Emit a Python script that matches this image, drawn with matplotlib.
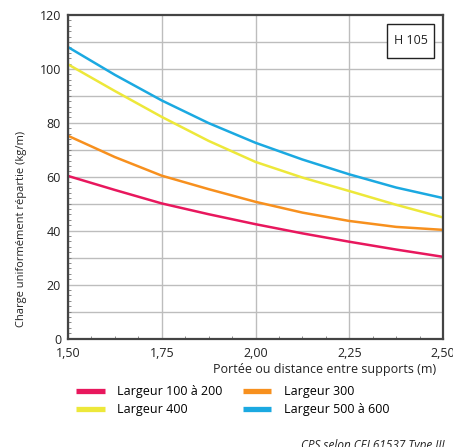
import matplotlib
matplotlib.use("Agg")
import matplotlib.pyplot as plt
from matplotlib.ticker import MultipleLocator
from matplotlib.lines import Line2D
from matplotlib.patches import Rectangle

# Data
portee = [1.5, 1.625, 1.75, 1.875, 2.0, 2.125, 2.25, 2.375, 2.5]
larg_100_200 = [60.3, 55.1, 50.1, 46.1, 42.4, 39.0, 35.9, 33.0, 30.3]
larg_300 = [75.2, 67.3, 60.4, 55.4, 50.7, 46.7, 43.6, 41.4, 40.3]
larg_400 = [101.7, 91.8, 82.2, 73.3, 65.5, 59.7, 54.7, 49.6, 44.9]
larg_500_600 = [108.1, 97.8, 88.3, 79.9, 72.6, 66.4, 60.9, 56.0, 52.1]

x_ticks = [1.5, 1.75, 2.0, 2.25, 2.5]
x_ticklabels = ["1,50", "1,75", "2,00", "2,25", "2,50"]
y_ticks = [0, 20, 40, 60, 80, 100, 120]

series = [
    ("Largeur 100 à 200", larg_100_200, "#E8175D"),
    ("Largeur 300", larg_300, "#F7901E"),
    ("Largeur 400", larg_400, "#EDE83A"),
    ("Largeur 500 à 600", larg_500_600, "#1BA9E1"),
]

plt.rcParams['font.family'] = ['Open Sans', 'DejaVu Sans']

W, H = 453, 447
fig = plt.figure(figsize=(W/100, H/100), dpi=100)
ax = fig.add_axes([68/W, 1-338.5/H, (443-68)/W, (338.5-15)/H])

for label, vals, col in series:
    ax.plot(portee, vals, color=col, lw=1.8, solid_capstyle='butt', zorder=3)

ax.set_xlim(1.5, 2.5)
ax.set_ylim(0, 120)
ax.set_xticks(x_ticks)
ax.set_xticklabels(x_ticklabels)
ax.set_yticks(y_ticks)
ax.yaxis.set_minor_locator(MultipleLocator(2))
ax.xaxis.set_minor_locator(MultipleLocator(0.0625))

# grid
for xv in x_ticks:
    ax.axvline(xv, color="#bdbdbd", lw=1.0, zorder=1)
for yv in range(10, 120, 10):
    ax.axhline(yv, color="#bdbdbd", lw=1.0, zorder=1)

for s in ax.spines.values():
    s.set_color("#444444")
    s.set_linewidth(1.6)
    s.set_zorder(4)

ax.tick_params(axis='both', which='major', length=0, labelsize=9, colors="#222222")
ax.tick_params(axis='x', which='major', pad=6)
ax.tick_params(axis='y', which='major', pad=5)
ax.tick_params(axis='both', which='minor', length=2, direction='in', width=0.6, color="#777777")

fig.text(22/W, 1-228.5/H, "Charge uniformément répartie (kg/m)", rotation=90,
         ha='center', va='center', fontsize=8, color="#222222")
ax.set_xlabel("Portée ou distance entre supports (m)", fontsize=9, color="#222222")
ax.xaxis.set_label_coords((436-68)/375, -0.076)
ax.xaxis.label.set_horizontalalignment('right')

# H 105 box
x0 = (387-68)/375
x1 = (434-68)/375
y1 = (338.5-24)/323.5
y0 = (338.5-58)/323.5
ax.add_patch(Rectangle((x0, y0), x1-x0, y1-y0, transform=ax.transAxes, fc='white',
                       ec='#222222', lw=1.0, zorder=5))
ax.text((x0+x1)/2, (y0+y1)/2, "H 105", transform=ax.transAxes, ha='center', va='center',
        fontsize=9, color="#222222", zorder=6)

order = [0, 2, 1, 3]
handles = [Line2D([0], [0], color=series[i][2], lw=3.8, solid_capstyle='butt') for i in order]
labels = [series[i][0] for i in order]
fig.legend(handles, labels, ncol=2, loc='upper left', bbox_to_anchor=(76/W, 1-385/H),
           frameon=False, fontsize=9, handlelength=2.3, handletextpad=1.0,
           columnspacing=1.6, labelspacing=0.42, borderaxespad=0, borderpad=0)

fig.text(445/W, 1-449/H, "CPS selon CEI 61537 Type III", ha='right', va='baseline',
         fontsize=8.5, style='italic', color="#222222")

fig.savefig("out.png", dpi=100)
